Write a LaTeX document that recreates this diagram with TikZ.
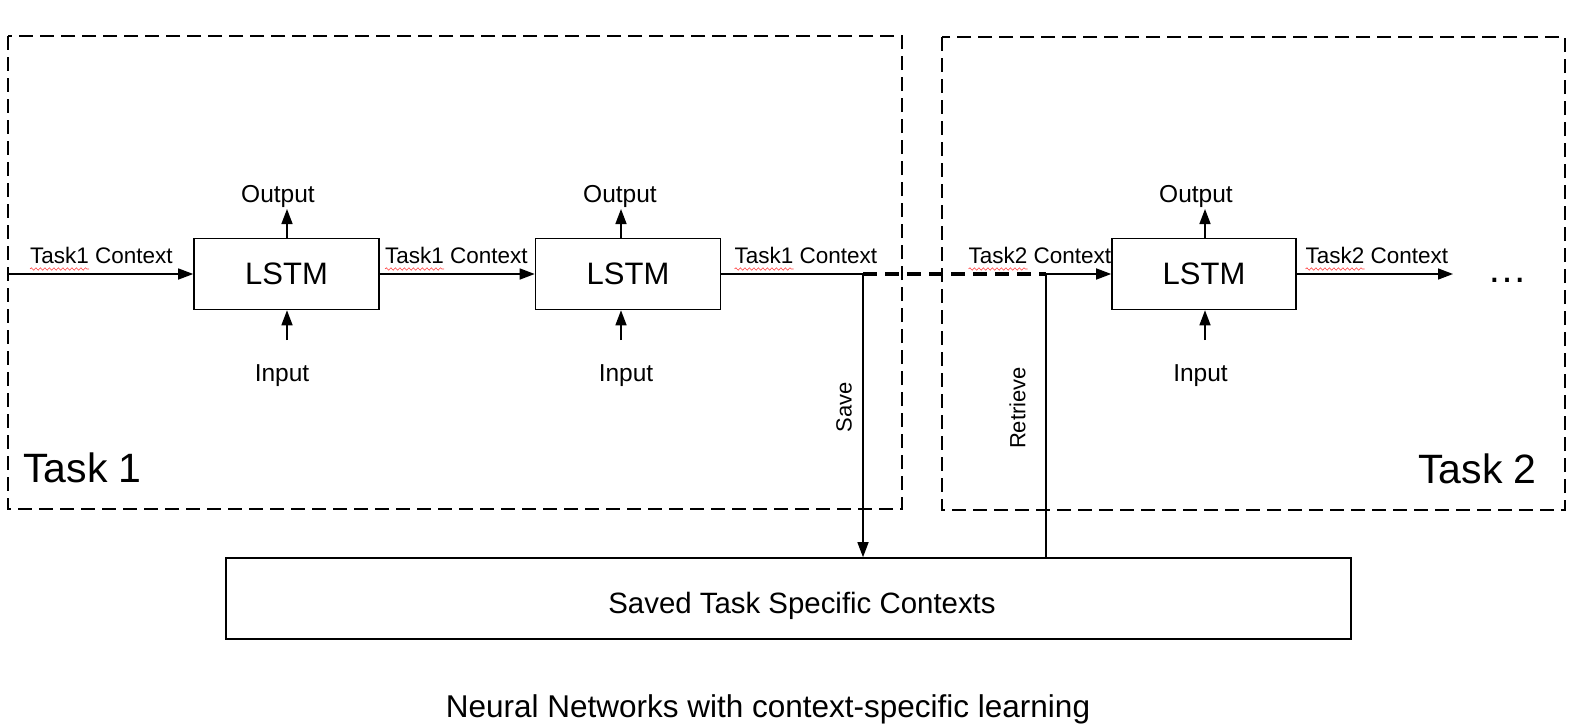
\documentclass[tikz,border=0pt]{standalone}
\usepackage{fontspec}
\setmainfont{Liberation Sans}
\usetikzlibrary{arrows.meta,decorations.pathmorphing}
\begin{document}
\begin{tikzpicture}[x=1pt,y=-1pt,
  lstm/.style={draw,line width=1.6pt,minimum width=185pt,minimum height=71pt,inner sep=0pt,font=\fontsize{31}{36}\selectfont},
  ctx/.style={anchor=base west,inner sep=0pt,font=\fontsize{22.5}{26}\selectfont},
  io/.style={anchor=base,inner sep=0pt,font=\fontsize{24.5}{28}\selectfont},
  arr/.style={line width=1.5pt,-{Triangle[length=15pt,width=11pt]}},
  conn/.style={line width=1.5pt},
  taskbox/.style={draw,line width=1.8pt,dash pattern=on 14pt off 7pt},
  squig/.style={red!75,line width=0.6pt,decorate,decoration={snake,segment length=4.5pt,amplitude=1.2pt}},
  vlabel/.style={rotate=90,inner sep=0pt,font=\fontsize{22}{26}\selectfont},
  tasklabel/.style={inner sep=0pt,font=\fontsize{41}{46}\selectfont},
]
\useasboundingbox (0,0) rectangle (1582,728);

% task regions
\draw[taskbox] (8,36) rectangle (902,509);
\draw[taskbox] (942,37) rectangle (1565,510);
\node[tasklabel,anchor=base west] (tl1) at (23,482) {Task 1};
\node[tasklabel,anchor=base east] (tl2) at (1537,483) {Task 2};

% LSTM cells
\node[lstm] (l1) at (286.5,274) {LSTM};
\node[lstm] (l2) at (628,274) {LSTM};
\node[lstm,minimum width=184pt] (l3) at (1204,274) {LSTM};

% outputs / inputs
\node[io] (o1) at (278,202) {Output};
\node[io] (o2) at (620,202) {Output};
\node[io] (o3) at (1196,202) {Output};
\node[io] (i1) at (282,381) {Input};
\node[io] (i2) at (626,381) {Input};
\node[io] (i3) at (1200.5,381) {Input};
\coordinate (ou1) at (287,209);
\coordinate (ou2) at (621,209);
\coordinate (ou3) at (1205,209);
\coordinate (in1) at (287,340);
\coordinate (in2) at (621,340);
\coordinate (in3) at (1205,340);
\draw[arr] (ou1 |- l1.north) -- (ou1);
\draw[arr] (ou2 |- l2.north) -- (ou2);
\draw[arr] (ou3 |- l3.north) -- (ou3);
\draw[arr] (in1) -- (in1 |- l1.south);
\draw[arr] (in2) -- (in2 |- l2.south);
\draw[arr] (in3) -- (in3 |- l3.south);

% context flow
\coordinate (s0) at (8,274);
\coordinate (j1) at (863,274);
\coordinate (j2) at (1046,274);
\coordinate (e3) at (1453,274);
\draw[arr] (s0) -- (l1.west);
\draw[arr] (l1.east) -- (l2.west);
\draw[conn] (l2.east) -- (j1);
\draw[line width=3.2pt,dash pattern=on 14pt off 8pt] (j1) -- (j2);
\draw[arr] (j2) -- (l3.west);
\draw[arr] (l3.east) -- (e3);
\node[anchor=base,inner sep=0pt,font=\fontsize{40}{44}\selectfont] (dots) at (1507,282) {…};

% context labels
\node[ctx] (c1) at (30,263) {Task1 Context};
\node[ctx] (c2) at (385,263) {Task1 Context};
\node[ctx] (c3) at (734.5,263) {Task1 Context};
\node[ctx] (c4) at (968.5,263) {Task2 Context};
\node[ctx] (c5) at (1305.5,263) {Task2 Context};
\foreach \c in {c1,c2,c3,c4,c5}
  \draw[squig] ([yshift=-6pt]\c.base west) -- ++(59,0);

% saved contexts store
\node[draw,line width=1.6pt,minimum width=1125pt,minimum height=81pt,inner sep=0pt] (sv) at (788.5,598.5) {};
\node[anchor=base,inner sep=0pt,font=\fontsize{29.4}{34}\selectfont] (svt) at (802,613) {Saved Task Specific Contexts};
\draw[arr] (j1) -- (j1 |- sv.north);
\draw[conn] (sv.north -| j2) -- (j2);
\node[vlabel] (save) at (844,407) {Save};
\node[vlabel] (retr) at (1017.5,408) {Retrieve};

% caption
\node[anchor=base,inner sep=0pt,font=\fontsize{31.5}{36}\selectfont] (title) at (768,717) {Neural Networks with context-specific learning};
\end{tikzpicture}
\end{document}
